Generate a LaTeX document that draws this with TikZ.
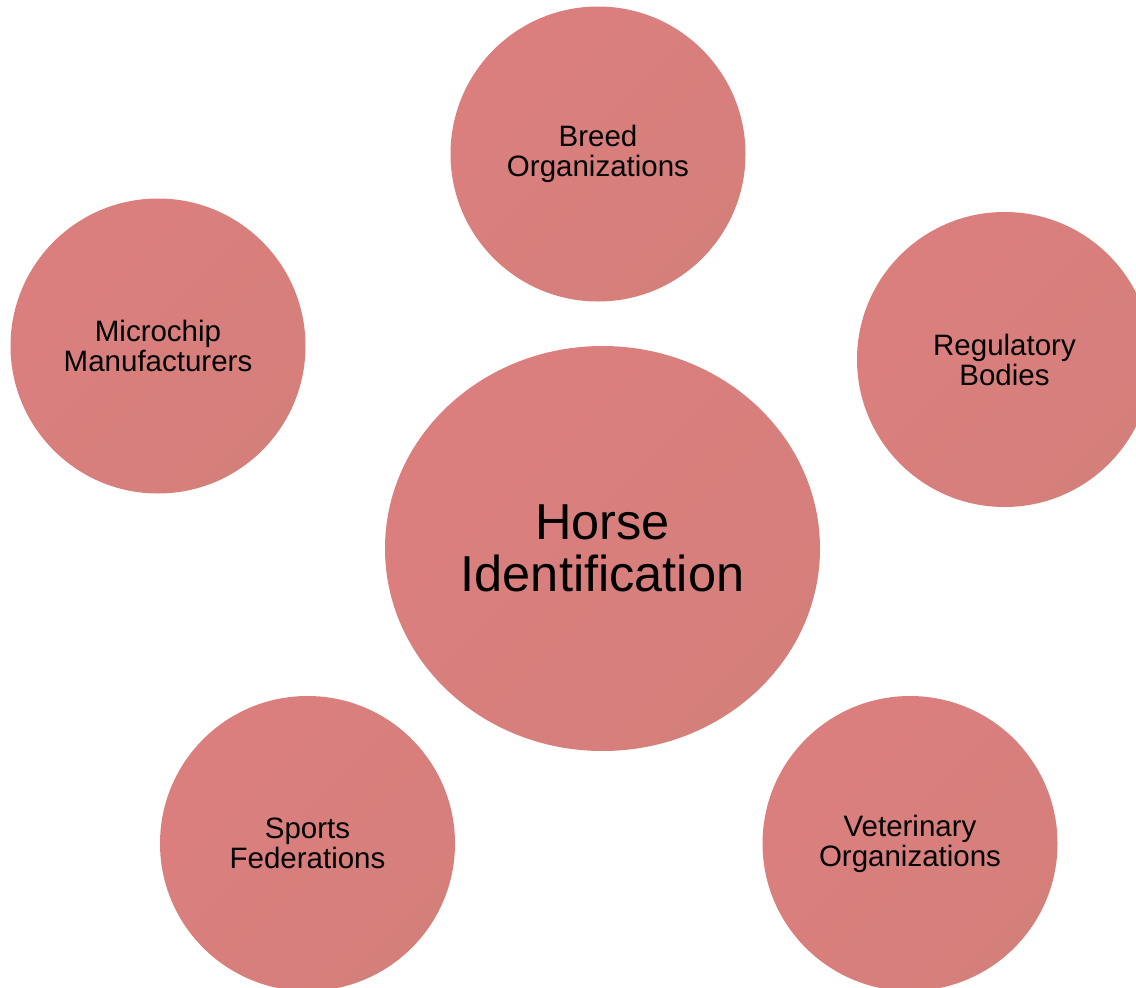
\documentclass[tikz,border=0pt]{standalone}
\usepackage{fontspec}
\setmainfont{Liberation Sans}
\usetikzlibrary{shapes.geometric}
\definecolor{bubA}{HTML}{DB7F7E}
\definecolor{bubB}{HTML}{E27B79}
\definecolor{bubC}{HTML}{D57F7B}
\tikzset{
  bubble/.style={circle, inner sep=0pt, minimum size=295pt, align=center,
    top color=bubA, middle color=bubB, bottom color=bubC, shading angle=45,
    font=\fontsize{29.5}{30}\selectfont, text=black},
  hub/.style={ellipse, inner sep=0pt, minimum width=435pt, minimum height=405pt, align=center,
    top color=bubA, middle color=bubB, bottom color=bubC, shading angle=45,
    font=\fontsize{50.5}{52}\selectfont, text=black}
}
\begin{document}
\begin{tikzpicture}[x=1pt,y=-1pt]
\useasboundingbox (0,0) rectangle (1136,988);
\clip (0,0) rectangle (1136,988);
\node[hub] (hub) at (602.5,548.5) {Horse\\Identification};
\node[bubble] (breed) at (598,154) {Breed\\Organizations};
\node[bubble] (micro) at (158,346) {Microchip\\Manufacturers};
\node[bubble] (reg) at (1004.5,359.5) {Regulatory\\Bodies};
\node[bubble] (sport) at (307.5,843.5) {Sports\\Federations};
\node[bubble] (vet) at (910,843.5) {Veterinary\\Organizations};
\end{tikzpicture}
\end{document}
